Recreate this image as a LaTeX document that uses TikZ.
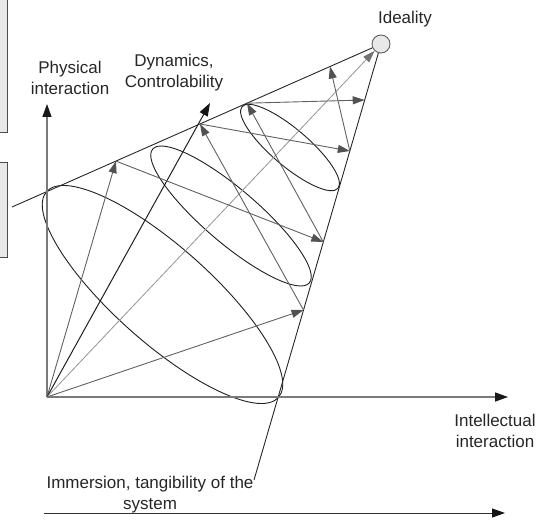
\documentclass[tikz,border=0pt]{standalone}
\usepackage{fontspec}
\setmainfont{Liberation Sans}
\usetikzlibrary{arrows.meta,calc}
\begin{document}
\begin{tikzpicture}[x=1bp,y=-1bp,
  lbl/.style={font=\fontsize{17bp}{21.5bp}\selectfont, text=black!85, align=center, inner sep=0pt, anchor=base},
  axisline/.style={draw=black!52, line width=1.3bp, -{Triangle[length=13bp,width=9bp,color=black!90]}},
  coneline/.style={draw=black!85, line width=0.9bp},
  ell/.style={draw=black!88, line width=0.9bp},
  garrow/.style={draw=black!62, line width=0.9bp, -{Triangle[length=12bp,width=8bp,color=black!68]}},
  darrow/.style={draw=black!88, line width=1bp, -{Triangle[length=13bp,width=9bp,color=black!92]}},
  larrow/.style={draw=black!42, line width=0.8bp, -{Triangle[length=12bp,width=8bp,color=black!55]}},
  sidebox/.style={draw=black!70, fill=black!9, line width=0.8bp}
]
\useasboundingbox (0,0) rectangle (544,520);

% cut-off boxes at the left edge
\draw[sidebox] (-3,-3) rectangle (7,132);
\draw[sidebox] (-3,162) rectangle (7,257);

% key points
\coordinate (O) at (47,397);
\coordinate (Ytip) at (47,104);
\coordinate (Xtip) at (508,397);
\coordinate (Dtip) at (210,103);
\coordinate (S) at (12,207);
\coordinate (E) at (254,480);
\node[circle, minimum size=18bp, inner sep=0pt, draw=black!62, fill=black!9, line width=0.9bp] (ideal) at (381,44) {};

% points on the upper edge of the cone
\coordinate (U1) at (116,161.1);
\coordinate (U2) at (200,124.0);
\coordinate (U3) at (247,103.2);
\coordinate (U4) at (330,66.5);
% points on the lower edge of the cone
\coordinate (L1) at (303.5,310);
\coordinate (L2) at (323.3,242);
\coordinate (L3) at (349.8,151);
\coordinate (L4) at (364.7,100);

% ellipses
\draw[ell, rotate around={-41.6:(162.5,294.5)}] (162.5,294.5) ellipse [x radius=155bp, y radius=48bp];
\draw[ell, rotate around={-40.5:(231,216)}] (231,216) ellipse [x radius=103bp, y radius=27bp];
\draw[ell, rotate around={-40.4:(290,147.5)}] (290,147.5) ellipse [x radius=63bp, y radius=18.5bp];

% cone edges
\draw[coneline] (S) -- (ideal);
\draw[coneline] (ideal) -- (E);

% axes
\draw[axisline] (O) -- (Ytip);
\draw[axisline] (O) -- (Xtip);

% arrows from the origin
\draw[garrow] (O) -- (U1);
\draw[darrow] (O) -- (Dtip);
\draw[larrow] (O) -- (ideal);
\draw[garrow] (O) -- (L1);

% zig-zag arrows between the cone edges
\draw[garrow] (U1) -- (L2);
\draw[garrow] (L1) -- (U2);
\draw[garrow] (U2) -- (L3);
\draw[garrow] (L2) -- (U3);
\draw[garrow] (U3) -- (L4);
\draw[garrow] (L3) -- (U4);

% bottom arrow
\coordinate (B0) at (44,513);
\coordinate (B1) at (505,513);
\draw[draw=black!80, line width=1bp, -{Triangle[length=13bp,width=9bp,color=black!92]}] (B0) -- (B1);

% labels (base = baseline of the last line)
\node[lbl] (tIdeal) at (405,23.5) {Ideality};
\node[lbl] (tPhys) at (70,95) {Physical\\interaction};
\node[lbl] (tDyn) at (174,88) {Dynamics,\\Controlability};
\node[lbl] (tInt) at (495,447.5) {Intellectual\\interaction};
\node[lbl] (tImm) at (150,509.5) {Immersion, tangibility of the\\system};
\end{tikzpicture}
\end{document}
